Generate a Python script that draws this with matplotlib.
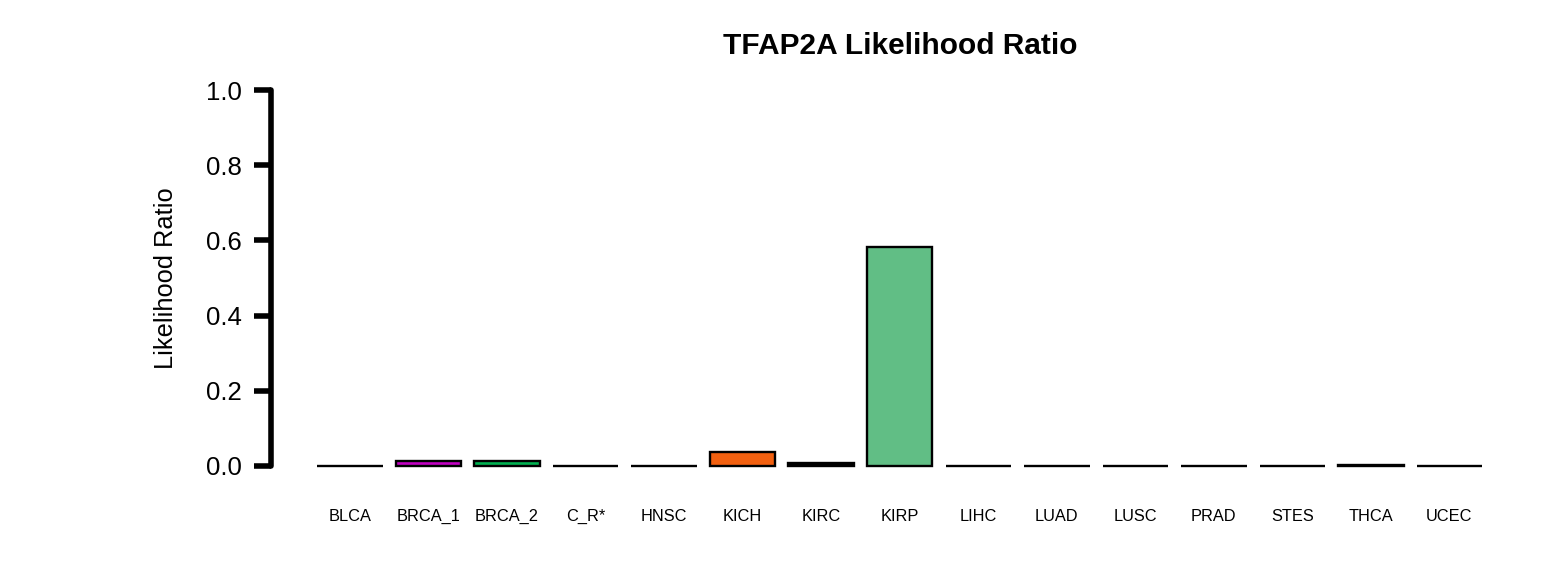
import matplotlib
matplotlib.use("Agg")
import matplotlib.pyplot as plt
import numpy as np

categories = ["BLCA", "BRCA_1", "BRCA_2", "C_R*", "HNSC", "KICH", "KIRC", "KIRP",
              "LIHC", "LUAD", "LUSC", "PRAD", "STES", "THCA", "UCEC"]
values = [0.0, 0.013, 0.012, 0.0, 0.0, 0.037, 0.007, 0.582,
          0.0, 0.0, 0.0, 0.0, 0.0, 0.003, 0.0]
colors = ["#E41A1C", "#C000C0", "#00B050", "#377EB8", "#984EA3", "#F26010", "#000000", "#61BE85",
          "#A65628", "#F781BF", "#999999", "#66C2A5", "#FC8D62", "#000000", "#E78AC3"]
yticks = [0.0, 0.2, 0.4, 0.6, 0.8, 1.0]
ytick_labels = ["0.0", "0.2", "0.4", "0.6", "0.8", "1.0"]

plt.rcParams['font.family'] = ['Liberation Sans', 'DejaVu Sans']

fig = plt.figure(figsize=(15.6, 5.86), dpi=100)
ax = fig.add_axes([0.1735, 0.1792, 0.8065, 0.6928])

x = np.arange(len(categories))
ax.bar(x, values, width=1/1.2, color=colors, edgecolor="black", linewidth=1.7)

ax.set_xlim(-1.01, 15.01)
ax.set_ylim(-0.04, 1.04)

for s in ["top", "right", "bottom"]:
    ax.spines[s].set_visible(False)
ax.spines["left"].set_bounds(0, 1)
ax.spines["left"].set_linewidth(4)
ax.spines["left"].set_capstyle("round")

ax.set_yticks(yticks)
ax.set_yticklabels(ytick_labels, fontsize=18.5)
ax.tick_params(axis="y", length=12, width=4, pad=9)

ax.set_xticks(x)
ax.set_xticklabels(categories, fontsize=11.8)
ax.tick_params(axis="x", length=0, pad=20)

ax.set_ylabel("Likelihood Ratio", fontsize=18.3, labelpad=20)
fig.text(0.577, 0.921, "TFAP2A Likelihood Ratio", fontsize=21.5, fontweight="bold",
         ha="center", va="center")

fig.savefig("out.png", dpi=100)
